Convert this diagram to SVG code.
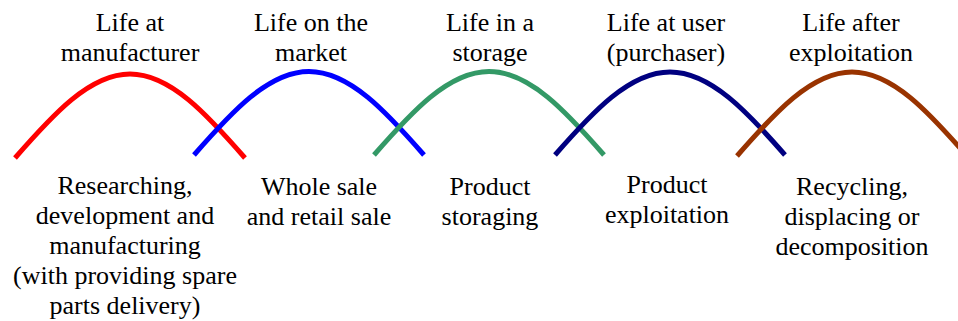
<svg xmlns="http://www.w3.org/2000/svg" width="958" height="321" viewBox="0 0 958 321">
  <style>
    text { font-family: "Liberation Serif", "Times New Roman", serif; font-size: 26px; fill: #000; text-anchor: middle; }
    .arc { fill: none; stroke-width: 5; }
  </style>
  <rect width="958" height="321" fill="#fff"/>
  <!-- overlapping life-phase arches (half sine waves) -->
  <g id="connectors">
    <path class="arc" stroke="#ff0000" d="M15,158 C52.5,115 89.6,74 130,74 C170.4,74 207.5,115 245,158"/>
    <path class="arc" stroke="#0000ff" d="M194,155 C231.5,112 268.6,71.5 309,71.5 C349.4,71.5 386.5,112 424,155"/>
    <path class="arc" stroke="#339966" d="M374,155 C411.5,112 448.6,71.5 489,71.5 C529.4,71.5 566.5,112 604,155"/>
    <path class="arc" stroke="#000080" d="M555,155 C592.5,112 629.6,72 670,72 C710.4,72 747.5,112 785,155"/>
    <path class="arc" stroke="#993300" d="M737,156 C774.5,113 811.6,72 852,72 C892.4,72 929.5,113 967,156"/>
  </g>
  <g id="phase-manufacturer">
    <text x="130" y="31">Life at</text>
    <text x="130" y="61">manufacturer</text>
    <text x="125" y="194">Researching,</text>
    <text x="125" y="224">development and</text>
    <text x="125" y="254">manufacturing</text>
    <text x="125" y="284">(with providing spare</text>
    <text x="125" y="314">parts delivery)</text>
  </g>
  <g id="phase-market">
    <text x="311" y="31">Life on the</text>
    <text x="311" y="61">market</text>
    <text x="319" y="195">Whole sale</text>
    <text x="319" y="225">and retail sale</text>
  </g>
  <g id="phase-storage">
    <text x="490" y="31">Life in a</text>
    <text x="490" y="61">storage</text>
    <text x="490" y="195">Product</text>
    <text x="490" y="225">storaging</text>
  </g>
  <g id="phase-user">
    <text x="666" y="31">Life at user</text>
    <text x="666" y="61">(purchaser)</text>
    <text x="667" y="193">Product</text>
    <text x="667" y="223">exploitation</text>
  </g>
  <g id="phase-after">
    <text x="851" y="31">Life after</text>
    <text x="851" y="61">exploitation</text>
    <text x="852" y="195">Recycling,</text>
    <text x="852" y="225">displacing or</text>
    <text x="852" y="255">decomposition</text>
  </g>
</svg>
